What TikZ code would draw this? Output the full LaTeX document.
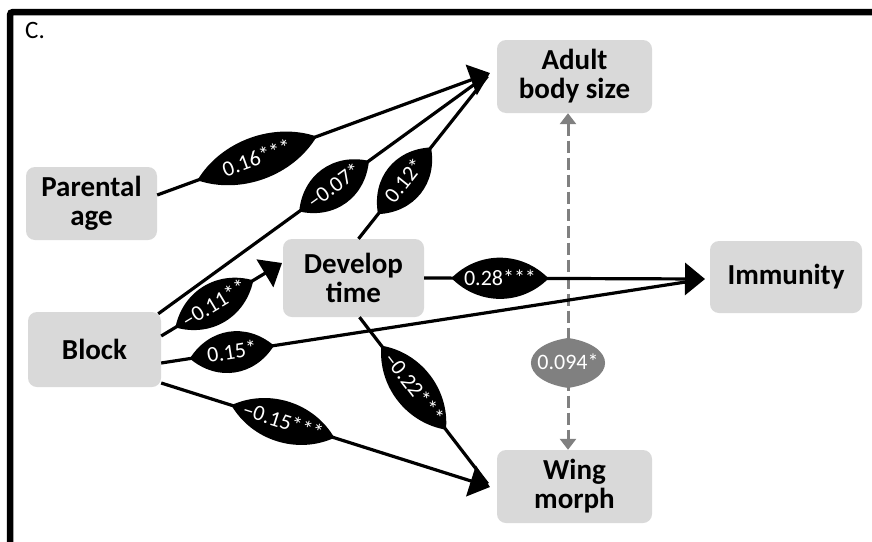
\documentclass[tikz,border=0pt]{standalone}
\usepackage{fontspec}
\setmainfont{Carlito}
\usetikzlibrary{arrows.meta}
\newdimen\lnsxa \newdimen\lnsxb \newdimen\lnsya \newdimen\lnsyb
\newdimen\lnscx \newdimen\lnscy \newdimen\lnsk \newdimen\lnsh
\newdimen\lnscl \newdimen\lnscr \newdimen\lnsct \newdimen\lnscb
\makeatletter
\pgfdeclareshape{lens}{%
  \inheritsavedanchors[from=rectangle]
  \inheritanchorborder[from=rectangle]
  \inheritanchor[from=rectangle]{center}
  \inheritanchor[from=rectangle]{north}
  \inheritanchor[from=rectangle]{south}
  \inheritanchor[from=rectangle]{east}
  \inheritanchor[from=rectangle]{west}
  \inheritanchor[from=rectangle]{north east}
  \inheritanchor[from=rectangle]{north west}
  \inheritanchor[from=rectangle]{south east}
  \inheritanchor[from=rectangle]{south west}
  \inheritanchor[from=rectangle]{mid}
  \inheritanchor[from=rectangle]{base}
  \backgroundpath{%
    \southwest \lnsxa=\pgf@x \lnsya=\pgf@y
    \northeast \lnsxb=\pgf@x \lnsyb=\pgf@y
    \lnscy=\lnsya \advance\lnscy by \lnsyb \lnscy=0.5\lnscy
    \lnsk=\lnsyb \advance\lnsk by -\lnsya \lnsk=0.6667\lnsk
    \lnsct=\lnscy \advance\lnsct by \lnsk
    \lnscb=\lnscy \advance\lnscb by -\lnsk
    \lnsh=\lnsxb \advance\lnsh by -\lnsxa \lnsh=0.28\lnsh
    \lnscl=\lnsxa \advance\lnscl by \lnsh
    \lnscr=\lnsxb \advance\lnscr by -\lnsh
    \pgfpathmoveto{\pgfqpoint{\lnsxa}{\lnscy}}%
    \pgfpathcurveto{\pgfqpoint{\lnscl}{\lnsct}}{\pgfqpoint{\lnscr}{\lnsct}}{\pgfqpoint{\lnsxb}{\lnscy}}%
    \pgfpathcurveto{\pgfqpoint{\lnscr}{\lnscb}}{\pgfqpoint{\lnscl}{\lnscb}}{\pgfqpoint{\lnsxa}{\lnscy}}%
    \pgfpathclose
  }%
}
\pgfdeclareshape{vlens}{%
  \inheritsavedanchors[from=rectangle]
  \inheritanchorborder[from=rectangle]
  \inheritanchor[from=rectangle]{center}
  \inheritanchor[from=rectangle]{north}
  \inheritanchor[from=rectangle]{south}
  \inheritanchor[from=rectangle]{east}
  \inheritanchor[from=rectangle]{west}
  \inheritanchor[from=rectangle]{north east}
  \inheritanchor[from=rectangle]{north west}
  \inheritanchor[from=rectangle]{south east}
  \inheritanchor[from=rectangle]{south west}
  \inheritanchor[from=rectangle]{mid}
  \inheritanchor[from=rectangle]{base}
  \backgroundpath{%
    \southwest \lnsxa=\pgf@x \lnsya=\pgf@y
    \northeast \lnsxb=\pgf@x \lnsyb=\pgf@y
    \lnscx=\lnsxa \advance\lnscx by \lnsxb \lnscx=0.5\lnscx
    \lnsk=\lnsxb \advance\lnsk by -\lnsxa \lnsk=0.6667\lnsk
    \lnscl=\lnscx \advance\lnscl by -\lnsk
    \lnscr=\lnscx \advance\lnscr by \lnsk
    \lnsh=\lnsyb \advance\lnsh by -\lnsya \lnsh=0.15\lnsh
    \lnscb=\lnsya \advance\lnscb by \lnsh
    \lnsct=\lnsyb \advance\lnsct by -\lnsh
    \pgfpathmoveto{\pgfqpoint{\lnscx}{\lnsya}}%
    \pgfpathcurveto{\pgfqpoint{\lnscr}{\lnscb}}{\pgfqpoint{\lnscr}{\lnsct}}{\pgfqpoint{\lnscx}{\lnsyb}}%
    \pgfpathcurveto{\pgfqpoint{\lnscl}{\lnsct}}{\pgfqpoint{\lnscl}{\lnscb}}{\pgfqpoint{\lnscx}{\lnsya}}%
    \pgfpathclose
  }%
}
\makeatother
\definecolor{boxgray}{RGB}{217,217,217}
\definecolor{dashgray}{RGB}{128,128,128}
\newcommand\boxfnt{\bfseries\fontsize{29}{29}\selectfont}
\newcommand\lblfnt{\fontsize{22}{24}\selectfont}
\newcommand\cfnt{\fontsize{25}{27}\selectfont}
\begin{document}
\begin{tikzpicture}[x=1pt,y=-1pt,
  box/.style={fill=boxgray, rounded corners=9pt, inner sep=0pt, align=center, font=\boxfnt},
  lbl/.style={shape=lens, fill=black, text=white, font=\lblfnt, inner ysep=12pt, inner xsep=11pt, text height=14pt, text depth=0pt, sloped},
  glbl/.style={shape=vlens, fill=dashgray, text=white, font=\lblfnt, inner xsep=5pt, inner ysep=16.5pt, text height=14pt, text depth=0pt},
  link/.style={line width=3.2pt, black},
  headed/.style={-{Triangle[length=20pt,width=32pt]}},
  dashlink/.style={line width=3pt, dashgray, dash pattern=on 12pt off 5pt, {Triangle[length=11pt,width=16pt]}-{Triangle[length=11pt,width=16pt]}}
]
\useasboundingbox (0,0) rectangle (872,541);
\fill[white] (0,0) rectangle (872,541);
\draw[line width=6.5pt, rounded corners=3pt] (10,548) -- (10,12) -- (878,12);

\node[anchor=base west, font=\cfnt, inner sep=0pt] (lab) at (25,38) {C.};

\node[box, minimum width=131pt, minimum height=73pt] (par) at (91.5,203.5) {Parental\\age};
\node[box, minimum width=133pt, minimum height=75pt] (blk) at (94.5,349.5) {Block};
\node[box, minimum width=141pt, minimum height=78pt] (dev) at (353.5,278) {Develop\\time};
\node[box, minimum width=155pt, minimum height=73pt] (adu) at (574.5,76.5) {Adult\\body size};
\node[box, minimum width=152pt, minimum height=72pt] (imm) at (786,277) {Immunity};
\node[box, minimum width=155pt, minimum height=73pt] (wng) at (574.5,486.5) {Wing\\morph};

\coordinate (aduin) at (490,73);
\coordinate (immin) at (705,279);
\coordinate (wngin) at (490,487);
\coordinate (devin) at (282,263);

\draw[dashlink] ([xshift=-6.5pt]adu.south) -- node[glbl, pos=0.742] {0.094*} ([xshift=-6.5pt]wng.north);

\draw[link, shorten >=4pt] ([xshift=-3pt,yshift=-2pt]blk.north east) -- node[lbl, pos=0.53] {–0.07*} (aduin);
\draw[link, shorten >=4pt] ([xshift=5pt]dev.north) -- node[lbl, pos=0.35, inner xsep=16pt] {0.12*} (aduin);
\draw[link, headed] ([yshift=8.5pt]par.east) -- node[lbl, pos=0.30, inner xsep=26pt, inner ysep=13pt] {0.16***} (aduin);

\draw[link, headed] ([yshift=13.5pt]blk.east) -- node[lbl, pos=0.44, inner xsep=8pt] {–0.11**} (devin);

\draw[link, shorten >=4pt] ([yshift=-13.5pt]blk.east) -- node[lbl, pos=0.13, inner xsep=16pt] {0.15*} (immin);
\draw[link, headed] (dev.east) -- node[lbl, pos=0.27] {0.28***} (immin);

\draw[link, shorten >=4pt] ([xshift=6pt]dev.south) -- node[lbl, pos=0.415, inner xsep=10pt] {–0.22***} (wngin);
\draw[link, headed] ([yshift=-33.5pt]blk.east) -- node[lbl, pos=0.37, inner xsep=11pt] {–0.15***} (wngin);
\end{tikzpicture}
\end{document}
